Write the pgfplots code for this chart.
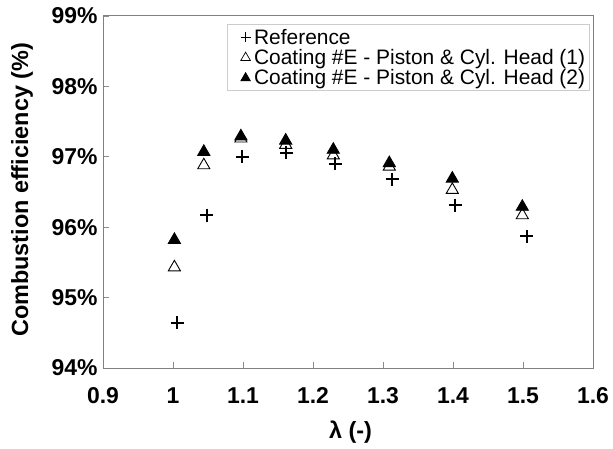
\documentclass[border=0pt]{standalone}
\usepackage{fontspec}
\setmainfont{Liberation Sans}
\usepackage{pgfplots}
\pgfplotsset{compat=1.18}
\pgfplotsset{
  legplus/.style={legend image code/.code={\path[draw=none] (-15bp,0bp) -- (7bp,0bp); \draw[##1, mark size=5bp, line width=1.3bp] plot coordinates {(0bp,0bp)};}},
  legtri/.style={legend image code/.code={\path[draw=none] (-15bp,0bp) -- (7bp,0bp); \draw[##1, mark size=5.5bp, line width=0.7bp] plot coordinates {(0bp,0bp)};}},
}
\begin{document}
\begin{tikzpicture}
\begin{axis}[
  at={(0,0)}, anchor=south west,
  scale only axis, width=490bp, height=352bp,
  clip=false,
  xmin=0.9, xmax=1.6, ymin=94, ymax=99,
  xtick={0.9,1,1.1,1.2,1.3,1.4,1.5,1.6},
  xticklabels={0.9,1,1.1,1.2,1.3,1.4,1.5,1.6},
  ytick={94,95,96,97,98,99},
  yticklabels={94\%,95\%,96\%,97\%,98\%,99\%},
  tick align=inside, xtick pos=bottom, ytick pos=left,
  major tick length=6bp,
  tick style={black!45, line width=0.8bp},
  axis line style={black!50, line width=1bp},
  tick label style={font=\bfseries\fontsize{23}{26}\selectfont},
  xticklabel style={yshift=-16bp},
  yticklabel style={xshift=-2bp},
  xlabel={λ (-)},
  ylabel={Combustion efficiency (\%)},
  label style={font=\bfseries\fontsize{23.5}{26}\selectfont},
  xlabel style={at={(axis description cs:0.505,-0.182)}, anchor=center},
  ylabel style={at={(axis description cs:-0.165,0.506)}, anchor=center},
  legend style={at={(axis description cs:0.9939,0.977)}, anchor=north east,
    draw=black!20, line width=0.8bp, font=\fontsize{21}{24}\selectfont,
    nodes={inner xsep=1.5bp, inner ysep=1.9bp},
    row sep=0bp, inner xsep=3bp, inner ysep=2.5bp},
  legend cell align=left,
]
\path (rel axis cs:-0.2102,-0.2301) rectangle (rel axis cs:1.0408,1.04545);
\addplot[only marks, mark=+, mark size=6.5bp, line width=2bp, black, legplus]
  coordinates {(1.006,94.64)(1.048,96.17)(1.099,97.00)(1.162,97.06)(1.232,96.90)(1.313,96.68)(1.403,96.31)(1.505,95.87)};
\addlegendentry{Reference}
\addplot[only marks, mark=triangle, mark size=7bp, line width=0.9bp, black, mark options={fill=white}, legtri]
  coordinates {(1.002,95.43)(1.044,96.88)(1.097,97.26)(1.161,97.17)(1.229,97.02)(1.309,96.86)(1.399,96.53)(1.499,96.17)};
\addlegendentry{Coating \#E - Piston \& Cyl. Head (1)}
\addplot[only marks, mark=triangle*, mark size=7bp, line width=0.9bp, black, legtri]
  coordinates {(1.002,95.82)(1.044,97.07)(1.097,97.29)(1.161,97.23)(1.229,97.10)(1.309,96.91)(1.399,96.69)(1.499,96.29)};
\addlegendentry{Coating \#E - Piston \& Cyl. Head (2)}
\end{axis}
\end{tikzpicture}
\end{document}
